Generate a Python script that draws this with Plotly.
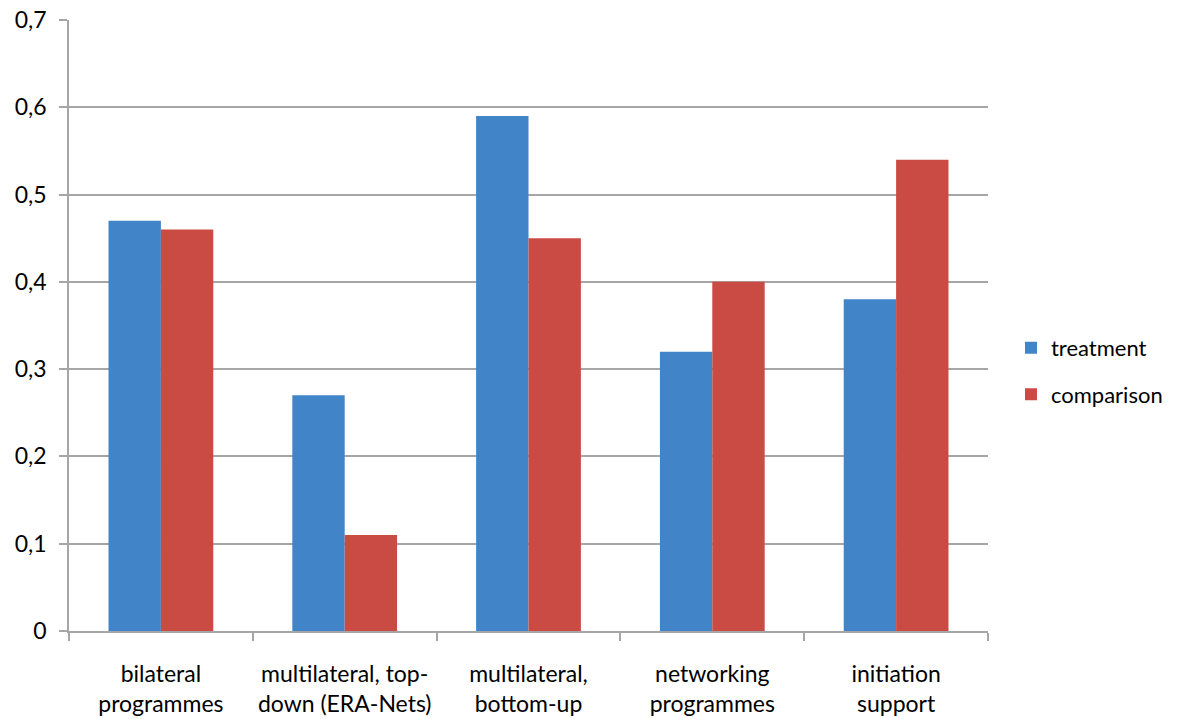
import plotly.graph_objects as go

categories = ["bilateral<br>programmes", "multilateral, top-<br>down (ERA-Nets)",
              "multilateral,<br>bottom-up", "networking<br>programmes", "initiation<br>support"]
treatment = [0.47, 0.27, 0.59, 0.32, 0.38]
comparison = [0.46, 0.11, 0.45, 0.40, 0.54]
y_tickvals = [0, 0.1, 0.2, 0.3, 0.4, 0.5, 0.6, 0.7]
y_ticktext = ["0", "0,1", "0,2", "0,3", "0,4", "0,5", "0,6", "0,7"]

FONT = "Lato, Open Sans, sans-serif"

fig = go.Figure()
fig.add_trace(go.Bar(name="treatment", x=categories, y=treatment, legendgroup="t",
                     marker=dict(color="#4284c8", line=dict(width=0))))
fig.add_trace(go.Bar(name="comparison", x=categories, y=comparison, legendgroup="c",
                     marker=dict(color="#c94b43", line=dict(width=0))))

fig.update_layout(
    width=1182, height=719,
    margin=dict(l=69, r=194, t=20, b=88),
    plot_bgcolor="white", paper_bgcolor="white",
    barmode="group", bargap=0.43, bargroupgap=0,
    font=dict(family=FONT, size=23, color="#000000"),
    legend=dict(x=1.025, y=0.425, xanchor="left", yanchor="middle",
                font=dict(size=22), traceorder="grouped", tracegroupgap=15,
                itemwidth=30),
    showlegend=True,
)
fig.update_yaxes(range=[0, 0.7], tickvals=y_tickvals, ticktext=y_ticktext,
                 showgrid=True, gridcolor="#a6a6a6", gridwidth=1.5,
                 showline=True, linecolor="#a6a6a6", linewidth=1.5,
                 ticks="outside", ticklen=8, tickcolor="#a6a6a6", tickwidth=1.5,
                 zeroline=False, ticklabelstandoff=8, automargin=False,
                 ticklabeloverflow="allow")
fig.update_xaxes(showline=True, linecolor="#a6a6a6", linewidth=1.5,
                 ticks="outside", ticklen=8, tickcolor="#a6a6a6", tickwidth=1.5,
                 tickson="boundaries", tickangle=0, ticklabelstandoff=22,
                 automargin=False, ticklabeloverflow="allow")

fig.write_html("out.html", config={"displayModeBar": False},
               post_script="document.body.style.margin='0';document.body.style.overflow='hidden';")
